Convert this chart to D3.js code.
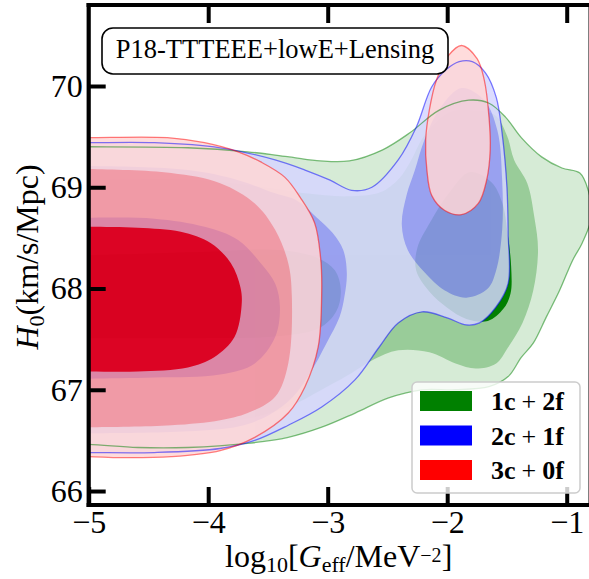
<!DOCTYPE html>
<html>
<head>
<meta charset="utf-8">
<script src="https://cdn.jsdelivr.net/npm/d3@7"></script>
<style>
  html, body { margin: 0; padding: 0; background: #fff; }
  svg { display: block; }
  text { font-family: "Liberation Serif", "DejaVu Serif", serif; fill: #000; }
</style>
</head>
<body>
<svg id="chart" width="589" height="579"></svg>
<script>
// ---------------- data (log10 Geff, H0) ----------------
const xTicks = [-5, -4, -3, -2, -1];
const yTicks = [66, 67, 68, 69, 70];
const legendLabels = [["1c", "2f"], ["2c", "1f"], ["3c", "0f"]];
const modelColors = ["#008000", "#0000ff", "#ff0000"];
const annotation = "P18-TTTEEE+lowE+Lensing";

// 1c + 2f (green) contours: 3 sigma, 2 sigma, 1 sigma
const green3 = [[-5.00,69.40],[-4.17,69.39],[-3.67,69.35],[-3.32,69.30],[-3.06,69.26],[-2.82,69.26],[-2.54,69.37],[-2.31,69.54],[-2.07,69.76],[-1.82,69.86],[-1.65,69.83],[-1.51,69.69],[-1.38,69.49],[-1.21,69.30],[-1.04,69.19],[-0.89,69.14],[-0.82,68.97],[-0.79,68.72],[-0.87,68.45],[-0.95,68.28],[-1.06,67.98],[-1.17,67.72],[-1.28,67.46],[-1.38,67.32],[-1.49,67.13],[-1.65,67.03],[-1.93,67.00],[-2.21,67.00],[-2.49,66.92],[-2.77,66.77],[-3.05,66.63],[-3.33,66.53],[-3.67,66.47],[-4.17,66.43],[-4.59,66.43],[-5.00,66.46],[-5.25,66.46],[-5.25,69.40]];
const green2 = [[-5.00,69.07],[-4.07,69.07],[-3.48,68.99],[-3.19,68.94],[-2.83,68.91],[-2.56,68.95],[-2.40,69.09],[-2.30,69.27],[-2.19,69.51],[-1.98,69.74],[-1.81,69.76],[-1.60,69.71],[-1.50,69.51],[-1.44,69.27],[-1.33,69.04],[-1.27,68.70],[-1.24,68.38],[-1.28,67.98],[-1.37,67.66],[-1.49,67.42],[-1.59,67.26],[-1.76,67.21],[-1.93,67.26],[-2.15,67.37],[-2.41,67.39],[-2.63,67.29],[-2.85,67.13],[-3.05,67.00],[-3.33,66.83],[-3.65,66.72],[-4.24,66.65],[-5.00,66.62],[-5.25,66.62],[-5.25,69.07]];
const green1L = [[-5.00,68.33],[-4.07,68.36],[-3.40,68.38],[-3.08,68.30],[-2.94,68.18],[-2.89,67.98],[-2.93,67.77],[-3.07,67.61],[-3.40,67.53],[-4.07,67.51],[-5.00,67.51],[-5.25,67.51],[-5.25,68.33]];
const green1R = [[-1.81,69.15],[-1.63,69.05],[-1.54,68.85],[-1.495,68.55],[-1.465,68.22],[-1.47,67.95],[-1.53,67.80],[-1.66,67.68],[-1.84,67.70],[-2.00,67.81],[-2.15,67.97],[-2.26,68.18],[-2.25,68.40],[-2.14,68.66],[-1.98,68.95]];

// 2c + 1f (blue) contours
const blue3 = [[-5.00,69.44],[-4.45,69.44],[-3.90,69.39],[-3.44,69.27],[-3.19,69.17],[-2.98,69.07],[-2.80,68.97],[-2.63,69.00],[-2.41,69.27],[-2.26,69.59],[-2.13,69.99],[-2.01,70.16],[-1.90,70.24],[-1.79,70.24],[-1.68,70.13],[-1.59,69.89],[-1.54,69.53],[-1.50,69.00],[-1.49,68.55],[-1.49,68.05],[-1.59,67.82],[-1.73,67.66],[-1.84,67.64],[-2.00,67.71],[-2.21,67.77],[-2.41,67.66],[-2.57,67.42],[-2.77,67.10],[-3.05,66.83],[-3.33,66.65],[-3.61,66.50],[-3.90,66.42],[-4.45,66.38],[-5.00,66.38],[-5.25,66.38],[-5.25,69.44]];
const blue2L = [[-5.00,69.21],[-4.17,69.17],[-3.75,69.07],[-3.44,68.94],[-3.26,68.87],[-3.09,68.70],[-2.96,68.55],[-2.87,68.38],[-2.84,68.15],[-2.86,67.92],[-2.90,67.72],[-3.01,67.46],[-3.15,67.16],[-3.29,66.93],[-3.49,66.75],[-3.74,66.64],[-4.17,66.59],[-5.00,66.57],[-5.25,66.57],[-5.25,69.21]];
const blue2R = [[-1.88,69.98],[-1.69,69.86],[-1.58,69.56],[-1.54,69.07],[-1.54,68.58],[-1.59,68.18],[-1.66,68.00],[-1.84,67.91],[-2.02,67.98],[-2.19,68.16],[-2.33,68.38],[-2.38,68.63],[-2.34,68.92],[-2.27,69.17],[-2.19,69.47],[-2.06,69.78]];
const blue1 = [[-5.00,68.70],[-4.45,68.69],[-4.03,68.61],[-3.75,68.48],[-3.56,68.25],[-3.44,68.05],[-3.40,67.82],[-3.44,67.52],[-3.61,67.26],[-3.90,67.15],[-4.45,67.12],[-5.00,67.11],[-5.25,67.11],[-5.25,68.70]];

// 3c + 0f (red) contours
const red3 = [[-5.00,69.49],[-4.34,69.49],[-4.03,69.44],[-3.75,69.35],[-3.56,69.25],[-3.36,69.10],[-3.23,68.90],[-3.11,68.65],[-3.06,68.31],[-3.05,67.98],[-3.08,67.42],[-3.19,67.03],[-3.33,66.77],[-3.61,66.53],[-3.90,66.40],[-4.31,66.34],[-4.73,66.33],[-5.00,66.34],[-5.25,66.34],[-5.25,69.49]];
const red3Island = [[-1.88,70.40],[-1.75,70.27],[-1.69,70.06],[-1.65,69.69],[-1.64,69.37],[-1.67,69.07],[-1.74,68.84],[-1.88,68.73],[-2.02,68.77],[-2.13,68.92],[-2.17,69.17],[-2.18,69.47],[-2.15,69.76],[-2.09,70.06],[-1.99,70.30]];
const red2 = [[-5.00,69.18],[-4.31,69.14],[-3.90,69.04],[-3.61,68.84],[-3.44,68.58],[-3.33,68.25],[-3.30,67.92],[-3.33,67.26],[-3.44,66.93],[-3.67,66.77],[-3.90,66.70],[-4.31,66.65],[-5.00,66.63],[-5.25,66.63],[-5.25,69.18]];
const red1 = [[-5.00,68.61],[-4.59,68.60],[-4.23,68.56],[-3.98,68.45],[-3.81,68.25],[-3.73,68.01],[-3.72,67.84],[-3.78,67.52],[-3.95,67.32],[-4.17,67.22],[-4.59,67.18],[-5.00,67.18],[-5.25,67.18],[-5.25,68.61]];

// ---------------- layout ----------------
const svg = d3.select("#chart");
const X0 = 88.7, Y0 = 505, Y1 = 5;
const x = d3.scaleLinear().domain([-5, -0.8]).range([X0, X0 + 4.2 * 119.5]);
const y = d3.scaleLinear().domain([65.862, 70.8]).range([Y0, Y1]);

svg.append("defs").append("clipPath").attr("id", "plotclip")
  .append("rect").attr("x", x(-5)).attr("y", y(70.8))
  .attr("width", x(-0.8) - x(-5)).attr("height", y(65.862) - y(70.8));

const line = d3.line().x(d => x(d[0])).y(d => y(d[1])).curve(d3.curveCatmullRomClosed.alpha(0.5));

function pale(c, n) {
  const col = d3.rgb(c);
  let r = col.r / 255, g = col.g / 255, b = col.b / 255;
  for (let i = 0; i < n; i++) { r = r * 0.4 + 0.6; g = g * 0.4 + 0.6; b = b * 0.4 + 0.6; }
  return d3.rgb(r * 255, g * 255, b * 255).formatHex();
}

const plot = svg.append("g").attr("clip-path", "url(#plotclip)");

const models = [
  { color: modelColors[0], opacity: 1.0, levels: [[green3], [green2], [green1L, green1R]] },
  { color: modelColors[1], opacity: 0.85, levels: [[blue3], [blue2L, blue2R], [blue1]] },
  { color: modelColors[2], opacity: 0.85, levels: [[red3, red3Island], [red2], [red1]] }
];

models.forEach(m => {
  const g = plot.append("g").attr("opacity", m.opacity);
  m.levels.forEach((shapes, i) => {
    const fill = pale(m.color, 2 - i);
    shapes.forEach(s => g.append("path").attr("d", line(s)).attr("fill", fill).attr("stroke", "none"));
  });
});
// outer contour edges
models.forEach(m => {
  m.levels[0].forEach(s => plot.append("path").attr("d", line(s))
    .attr("fill", "none").attr("stroke", m.color).attr("stroke-opacity", 0.5).attr("stroke-width", 1.3));
});

// ---------------- axes ----------------
const fmt = d => (d < 0 ? "\u2212" + Math.abs(d) : String(d));
const fs = 32;

const ax = svg.append("g").attr("transform", `translate(0,${Y0})`)
  .call(d3.axisBottom(x).tickValues(xTicks).tickFormat(fmt).tickSizeInner(-18).tickSizeOuter(0).tickPadding(5));
const axTop = svg.append("g").attr("transform", `translate(0,${Y1})`)
  .call(d3.axisTop(x).tickValues(xTicks.slice(1)).tickFormat("").tickSizeInner(-18).tickSizeOuter(0));
const ay = svg.append("g").attr("transform", `translate(${X0},0)`)
  .call(d3.axisLeft(y).tickValues(yTicks).tickFormat(fmt).tickSizeInner(-17).tickSizeOuter(0).tickPadding(6));

[ax, axTop, ay].forEach(a => {
  a.select(".domain").remove();
  a.selectAll(".tick line").attr("stroke", "#000").attr("stroke-width", 4);
  a.selectAll(".tick text").attr("font-family", "Liberation Serif, serif").attr("font-size", fs).attr("fill", "#000");
});

// spines
const spines = svg.append("g").attr("stroke", "#000").attr("stroke-width", 4.2).attr("stroke-linecap", "square");
spines.append("line").attr("x1", X0).attr("x2", X0).attr("y1", Y1).attr("y2", Y0);
spines.append("line").attr("x1", X0).attr("x2", x(-0.8)).attr("y1", Y0).attr("y2", Y0);
spines.append("line").attr("x1", X0).attr("x2", x(-0.8)).attr("y1", Y1).attr("y2", Y1);
spines.append("line").attr("x1", x(-0.8)).attr("x2", x(-0.8)).attr("y1", Y1).attr("y2", Y0);

// x label
const xl = svg.append("text").attr("x", 225).attr("y", 567).attr("font-size", fs);
xl.append("tspan").text("log");
xl.append("tspan").attr("font-size", 22).attr("dy", 5).text("10");
xl.append("tspan").attr("dy", -5).text("[");
xl.append("tspan").attr("font-style", "italic").text("G");
xl.append("tspan").attr("font-size", 22).attr("dy", 5).text("eff");
xl.append("tspan").attr("dy", -5).text("/MeV");
xl.append("tspan").attr("font-size", 20).attr("dy", -5).text("\u22122");
xl.append("tspan").attr("dy", 5).text("]");

// y label
const yl = svg.append("text").attr("transform", "translate(38,257) rotate(-90)")
  .attr("text-anchor", "middle").attr("font-size", fs);
yl.append("tspan").attr("font-style", "italic").text("H");
yl.append("tspan").attr("font-size", 22).attr("dy", 6).text("0");
yl.append("tspan").attr("dy", -6).text("(km/s/Mpc)");

// annotation box
svg.append("rect").attr("x", 102).attr("y", 28).attr("width", 346).attr("height", 46)
  .attr("rx", 11).attr("fill", "#fff").attr("stroke", "#000").attr("stroke-width", 1.6);
svg.append("text").attr("x", 275).attr("y", 58).attr("text-anchor", "middle")
  .attr("font-size", 26.5).text(annotation);

// legend
const lg = svg.append("g");
lg.append("rect").attr("x", 412).attr("y", 382).attr("width", 168).attr("height", 111)
  .attr("rx", 5).attr("fill", "#fff").attr("fill-opacity", 0.8).attr("stroke", "#cccccc").attr("stroke-width", 1.5);
legendLabels.forEach((lab, i) => {
  const cy = 401 + i * 34.5;
  lg.append("rect").attr("x", 420).attr("y", cy - 10).attr("width", 52).attr("height", 20).attr("fill", modelColors[i]);
  const t = lg.append("text").attr("x", 491).attr("y", cy + 9).attr("font-size", 26);
  t.append("tspan").attr("font-weight", "bold").text(lab[0]);
  t.append("tspan").attr("dx", 6).text("+");
  t.append("tspan").attr("dx", 6).attr("font-weight", "bold").text(lab[1]);
});
</script>
</body>
</html>
